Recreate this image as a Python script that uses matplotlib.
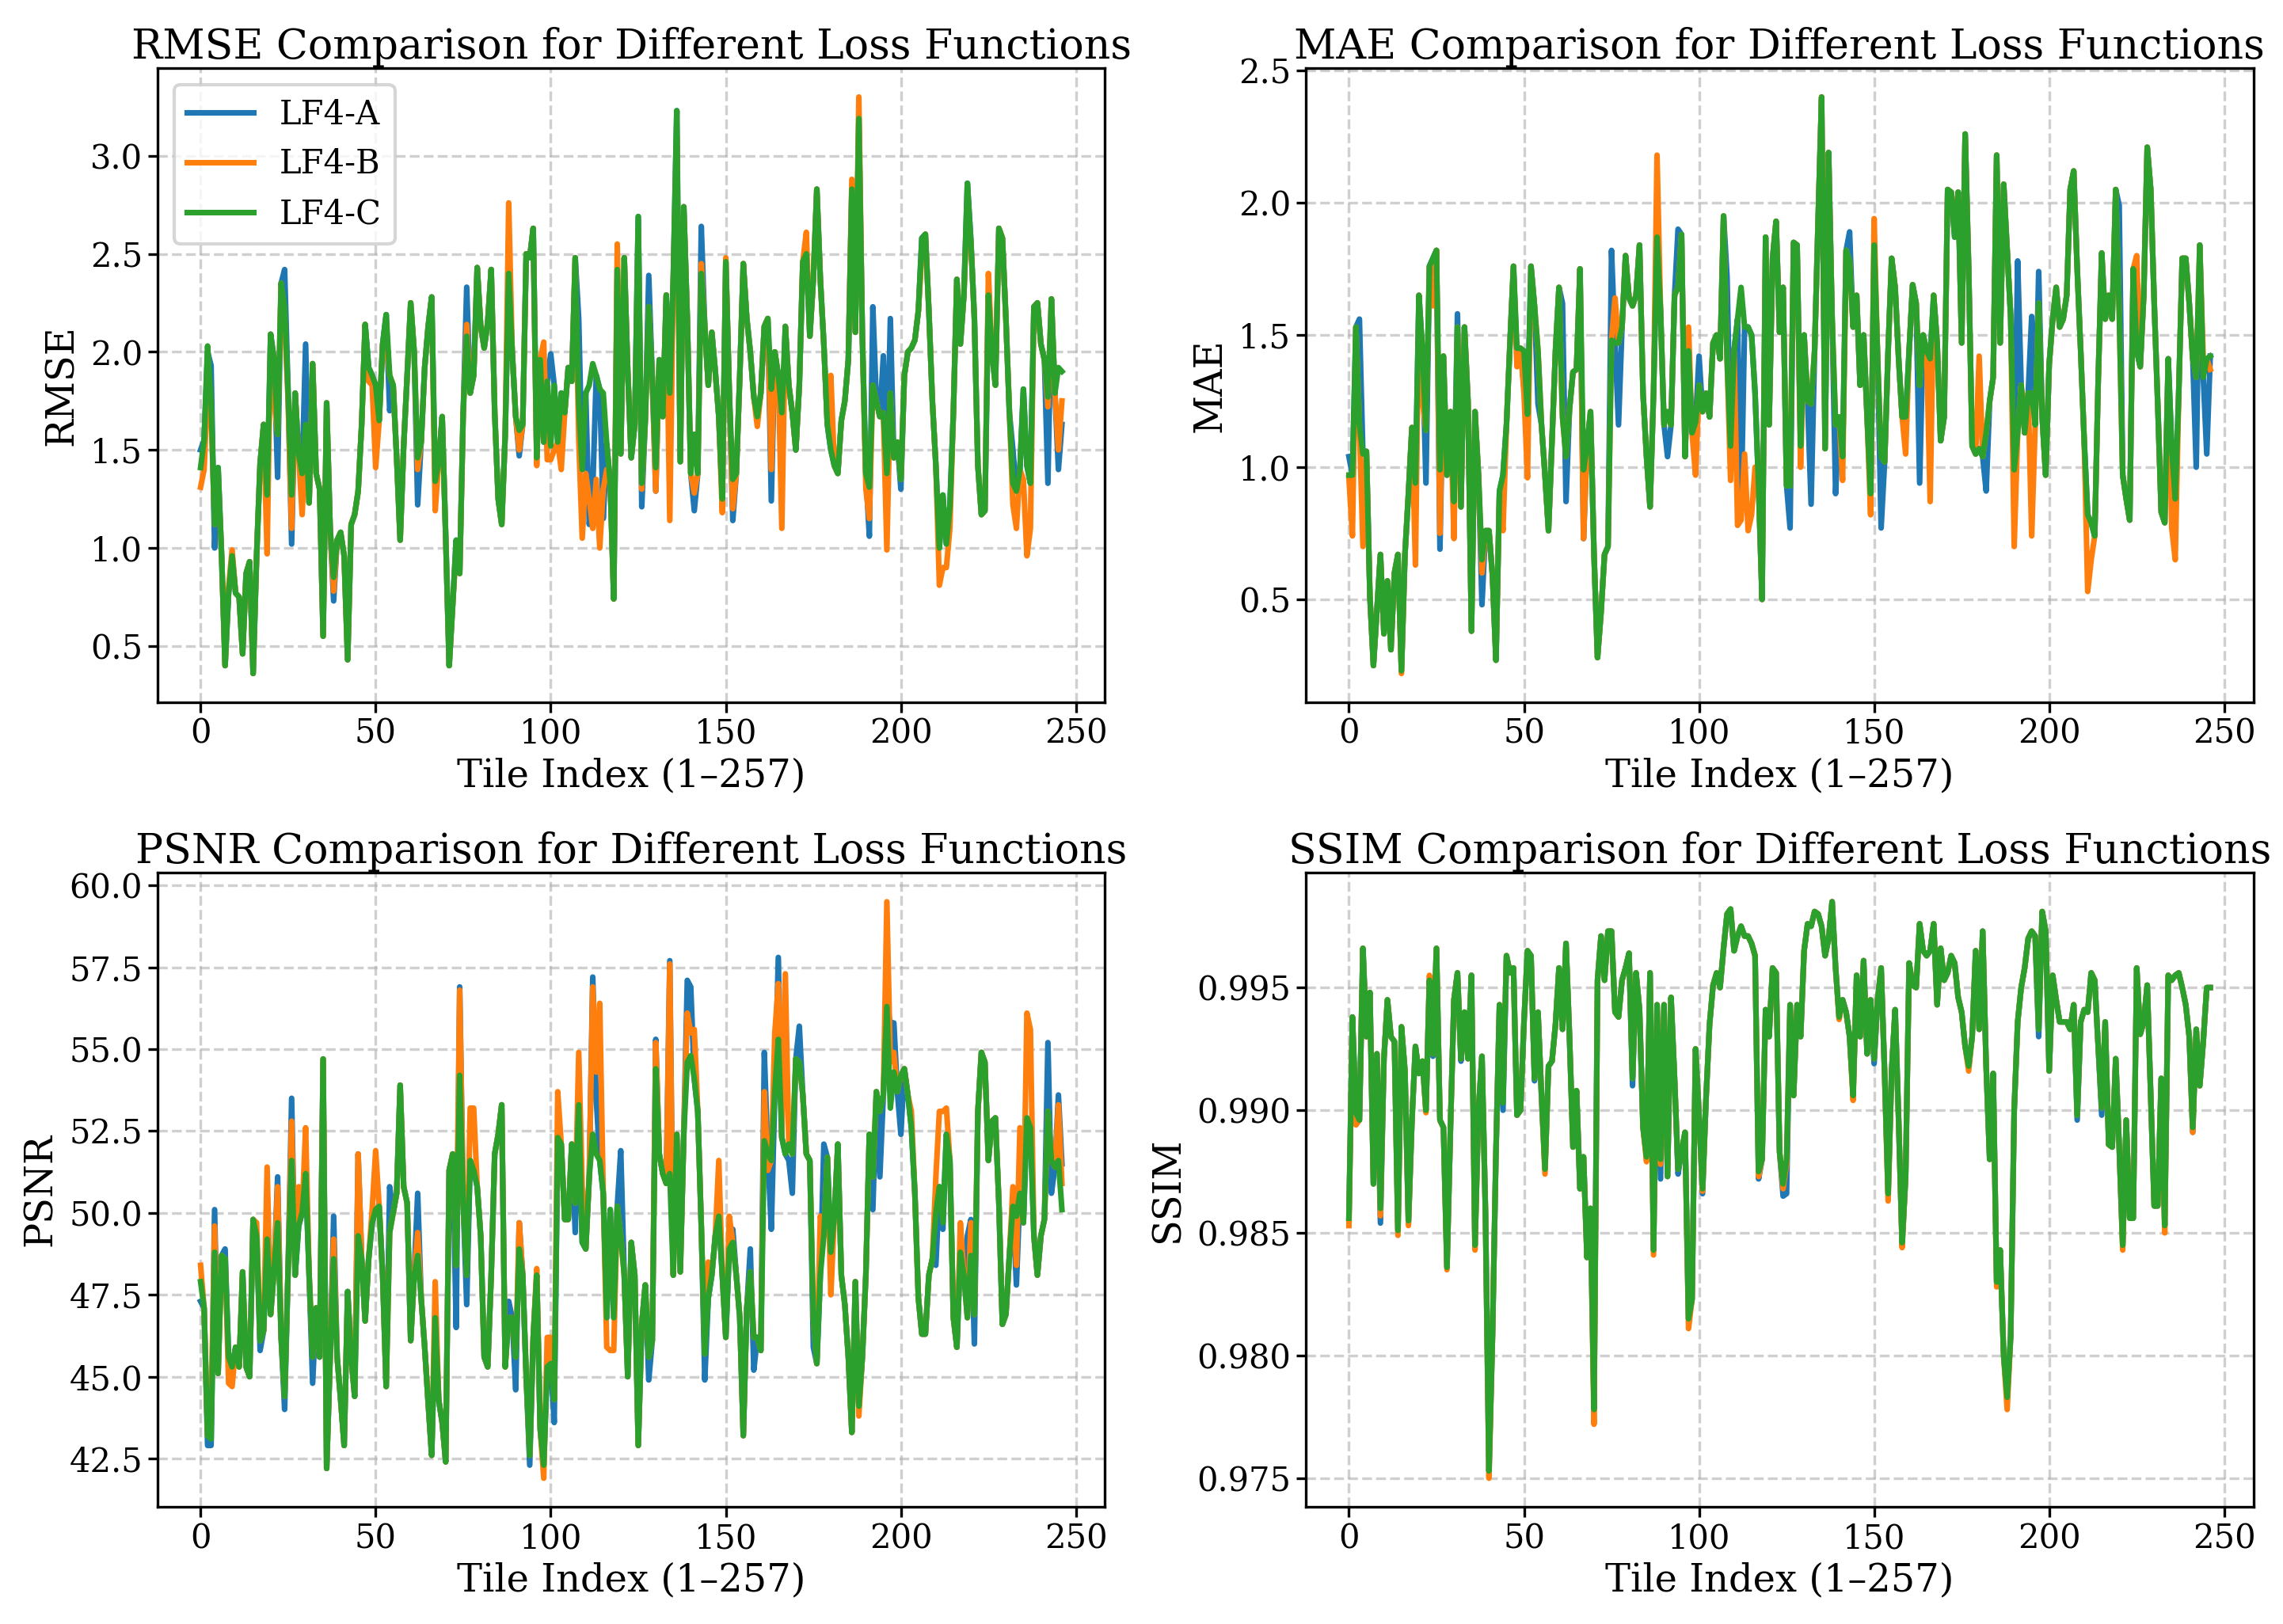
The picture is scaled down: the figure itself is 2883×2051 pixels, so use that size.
"""
Per-tile comparison of the three LF4 loss-function variants
(RMSE, MAE, PSNR, SSIM) on a 2x2 grid.
"""
import numpy as np
import matplotlib.pyplot as plt

plt.rcParams['font.family'] = 'DejaVu Serif'
plt.rcParams['figure.dpi'] = 300

# ---------------------------------------------------------------
# Values per tile
# ---------------------------------------------------------------
series_labels = ['LF4-A', 'LF4-B', 'LF4-C']

rmse_a = [
    1.50, 1.55, 2.00, 1.93, 1.00, 1.41, 0.96, 0.40, 0.77, 0.96,
    0.77, 0.75, 0.46, 0.87, 0.93, 0.36, 0.96, 1.43, 1.63, 1.27,
    2.09, 1.96, 1.36, 2.35, 2.42, 1.79, 1.02, 1.79, 1.48, 1.38,
    2.04, 1.23, 1.94, 1.38, 1.30, 0.55, 1.74, 1.10, 0.73, 1.04,
    1.08, 0.96, 0.43, 1.12, 1.17, 1.29, 1.63, 2.14, 1.92, 1.88,
    1.83, 1.65, 2.04, 2.19, 1.70, 1.83, 1.46, 1.04, 1.52, 1.88,
    2.25, 2.00, 1.22, 1.54, 1.92, 2.13, 2.28, 1.34, 1.44, 1.67,
    1.06, 0.40, 0.71, 1.04, 0.87, 1.69, 2.33, 1.79, 1.88, 2.43,
    2.13, 2.02, 2.15, 2.42, 1.69, 1.25, 1.12, 1.58, 2.40, 2.00,
    1.67, 1.47, 1.63, 2.50, 2.48, 2.63, 1.46, 1.96, 1.54, 1.85,
    1.99, 1.83, 1.54, 1.79, 1.69, 1.92, 1.85, 2.48, 2.17, 1.40,
    1.79, 1.12, 1.30, 1.88, 1.81, 1.15, 1.53, 1.33, 0.74, 2.42,
    1.48, 2.48, 1.90, 1.46, 1.63, 2.69, 1.21, 1.65, 2.39, 1.87,
    1.29, 1.96, 1.67, 2.29, 1.79, 2.37, 3.23, 1.44, 2.74, 2.17,
    1.38, 1.19, 1.38, 2.64, 2.13, 1.83, 2.10, 1.90, 1.67, 1.25,
    2.46, 1.79, 1.14, 1.38, 1.88, 2.45, 2.17, 2.00, 1.77, 1.67,
    1.79, 2.13, 2.17, 1.24, 2.00, 1.88, 1.40, 2.13, 1.83, 1.69,
    1.50, 1.83, 2.46, 2.50, 2.08, 2.37, 2.83, 2.37, 2.04, 1.63,
    1.50, 1.42, 1.38, 1.65, 1.75, 1.96, 2.83, 2.10, 3.19, 2.08,
    1.38, 1.06, 2.23, 1.75, 1.67, 1.98, 1.38, 2.17, 1.46, 1.54,
    1.30, 1.88, 2.00, 2.02, 2.06, 2.21, 2.58, 2.60, 2.21, 1.75,
    1.42, 1.00, 1.27, 1.02, 1.21, 1.69, 2.37, 2.04, 2.29, 2.86,
    2.57, 2.17, 1.42, 1.17, 1.19, 2.29, 2.00, 1.83, 2.63, 2.58,
    2.17, 1.69, 1.50, 1.29, 1.40, 1.81, 1.42, 1.33, 2.23, 2.25,
    2.04, 1.96, 1.33, 2.27, 1.79, 1.40, 1.63,
]
rmse_b = [
    1.31, 1.40, 1.80, 1.70, 1.12, 1.38, 0.96, 0.40, 0.80, 0.99,
    0.77, 0.75, 0.46, 0.87, 0.93, 0.36, 0.96, 1.43, 1.63, 0.97,
    2.09, 1.75, 1.58, 2.35, 2.15, 1.75, 1.10, 1.79, 1.48, 1.17,
    1.55, 1.23, 1.94, 1.38, 1.30, 0.55, 1.74, 1.10, 0.78, 1.04,
    1.08, 0.96, 0.43, 1.12, 1.17, 1.29, 1.63, 2.14, 1.85, 1.83,
    1.41, 1.65, 2.04, 2.05, 1.88, 1.83, 1.46, 1.04, 1.52, 1.88,
    2.25, 2.00, 1.40, 1.54, 1.92, 2.13, 2.28, 1.19, 1.44, 1.67,
    1.06, 0.40, 0.71, 1.00, 0.87, 1.69, 2.14, 1.79, 1.88, 2.43,
    2.13, 2.02, 2.15, 2.42, 1.69, 1.25, 1.12, 1.58, 2.76, 2.00,
    1.67, 1.50, 1.63, 2.50, 2.48, 2.63, 1.42, 1.96, 2.05, 1.45,
    1.45, 1.50, 1.54, 1.40, 1.69, 1.92, 1.85, 2.48, 1.55, 1.05,
    1.38, 1.25, 1.10, 1.35, 1.00, 1.30, 1.40, 1.33, 0.74, 2.55,
    1.48, 2.48, 1.90, 1.46, 1.63, 2.60, 1.30, 1.65, 2.23, 1.87,
    1.29, 1.96, 1.67, 2.29, 1.14, 2.37, 3.10, 1.44, 2.74, 2.17,
    1.38, 1.28, 1.38, 2.45, 2.13, 1.83, 2.10, 1.90, 1.67, 1.18,
    2.48, 1.79, 1.20, 1.38, 1.88, 2.45, 2.17, 2.00, 1.77, 1.62,
    1.79, 2.13, 2.17, 1.40, 2.00, 1.88, 1.10, 2.13, 1.83, 1.69,
    1.50, 1.83, 2.46, 2.61, 2.08, 2.37, 2.83, 2.37, 2.04, 1.63,
    1.88, 1.42, 1.38, 1.65, 1.75, 1.96, 2.88, 2.10, 3.30, 2.08,
    1.30, 1.15, 1.83, 1.75, 1.67, 1.69, 0.99, 1.79, 1.46, 1.54,
    1.35, 1.88, 2.00, 2.02, 2.06, 2.21, 2.50, 2.60, 2.21, 1.75,
    1.42, 0.81, 0.90, 0.90, 1.10, 1.69, 2.37, 2.04, 2.29, 2.75,
    2.56, 2.17, 1.42, 1.17, 1.19, 2.40, 2.00, 1.83, 2.63, 2.58,
    2.17, 1.69, 1.22, 1.10, 1.40, 1.35, 0.96, 1.10, 2.23, 2.25,
    2.04, 1.96, 1.72, 2.27, 1.79, 1.50, 1.75,
]
rmse_c = [
    1.41, 1.55, 2.03, 1.75, 1.12, 1.41, 0.96, 0.40, 0.77, 0.96,
    0.77, 0.75, 0.46, 0.87, 0.93, 0.36, 0.96, 1.43, 1.63, 1.27,
    2.09, 1.96, 1.58, 2.35, 2.23, 1.79, 1.27, 1.79, 1.48, 1.38,
    1.63, 1.23, 1.94, 1.38, 1.30, 0.55, 1.74, 1.10, 0.85, 1.04,
    1.08, 0.96, 0.43, 1.12, 1.17, 1.29, 1.63, 2.14, 1.92, 1.88,
    1.83, 1.65, 2.04, 2.19, 1.88, 1.83, 1.46, 1.04, 1.52, 1.88,
    2.25, 2.00, 1.46, 1.54, 1.92, 2.13, 2.28, 1.34, 1.44, 1.67,
    1.06, 0.40, 0.71, 1.04, 0.87, 1.69, 2.08, 1.79, 1.88, 2.43,
    2.13, 2.02, 2.15, 2.42, 1.69, 1.25, 1.12, 1.58, 2.40, 2.00,
    1.67, 1.60, 1.63, 2.50, 2.48, 2.63, 1.46, 1.96, 1.54, 1.85,
    1.52, 1.83, 1.54, 1.79, 1.69, 1.92, 1.85, 2.48, 1.73, 1.40,
    1.79, 1.83, 1.94, 1.88, 1.81, 1.79, 1.53, 1.33, 0.74, 2.42,
    1.48, 2.48, 1.90, 1.46, 1.63, 2.69, 1.33, 1.65, 2.23, 1.87,
    1.41, 1.96, 1.67, 2.29, 1.79, 2.37, 3.23, 1.44, 2.74, 2.17,
    1.38, 1.58, 1.38, 2.40, 2.13, 1.83, 2.10, 1.90, 1.67, 1.25,
    2.46, 1.79, 1.35, 1.38, 1.88, 2.45, 2.17, 2.00, 1.77, 1.67,
    1.79, 2.13, 2.17, 1.81, 2.00, 1.88, 1.69, 2.13, 1.83, 1.69,
    1.50, 1.83, 2.46, 2.50, 2.08, 2.37, 2.83, 2.37, 2.04, 1.63,
    1.50, 1.42, 1.38, 1.65, 1.75, 1.96, 2.83, 2.10, 3.19, 2.08,
    1.38, 1.31, 1.83, 1.75, 1.67, 1.69, 1.38, 1.79, 1.46, 1.54,
    1.35, 1.88, 2.00, 2.02, 2.06, 2.21, 2.58, 2.60, 2.21, 1.75,
    1.42, 1.00, 1.27, 1.02, 1.21, 1.69, 2.37, 2.04, 2.29, 2.86,
    2.56, 2.17, 1.42, 1.17, 1.19, 2.29, 2.00, 1.83, 2.63, 2.58,
    2.17, 1.69, 1.33, 1.29, 1.40, 1.81, 1.42, 1.33, 2.23, 2.25,
    2.04, 1.96, 1.77, 2.27, 1.79, 1.92, 1.90,
]

mae_a = [
    1.04, 0.97, 1.53, 1.56, 1.05, 1.06, 0.51, 0.25, 0.46, 0.67,
    0.37, 0.57, 0.31, 0.60, 0.67, 0.23, 0.67, 0.90, 1.15, 0.94,
    1.65, 1.44, 0.94, 1.76, 1.79, 1.82, 0.69, 1.42, 0.97, 1.21,
    0.87, 1.58, 0.85, 1.53, 1.25, 0.38, 1.21, 0.97, 0.48, 0.76,
    0.76, 0.59, 0.27, 0.91, 0.97, 1.16, 1.47, 1.76, 1.40, 1.45,
    1.30, 1.20, 1.76, 1.61, 1.24, 1.16, 0.97, 0.76, 1.10, 1.44,
    1.68, 1.62, 0.87, 1.22, 1.36, 1.37, 1.75, 0.73, 1.08, 1.21,
    0.67, 0.28, 0.45, 0.67, 0.70, 1.82, 1.47, 1.16, 1.53, 1.80,
    1.64, 1.61, 1.65, 1.84, 1.28, 1.04, 0.85, 1.28, 1.87, 1.59,
    1.16, 1.04, 1.16, 1.65, 1.90, 1.88, 1.04, 1.44, 1.13, 1.17,
    1.42, 1.21, 1.28, 1.19, 1.47, 1.50, 1.41, 1.95, 1.72, 1.08,
    1.44, 1.56, 0.83, 1.53, 1.53, 1.50, 1.28, 0.93, 0.50, 1.87,
    1.16, 1.79, 1.93, 1.51, 1.68, 0.93, 0.77, 1.85, 1.84, 1.08,
    1.50, 1.25, 0.86, 1.44, 1.93, 2.39, 1.07, 2.19, 1.56, 0.90,
    1.19, 1.04, 1.82, 1.89, 1.53, 1.65, 1.31, 1.50, 1.19, 0.90,
    1.84, 1.41, 0.77, 1.02, 1.44, 1.79, 1.68, 1.41, 1.19, 1.19,
    1.44, 1.69, 1.62, 0.94, 1.50, 1.44, 1.41, 1.65, 1.47, 1.10,
    1.19, 2.05, 2.04, 1.87, 2.04, 1.47, 2.26, 1.75, 1.08, 1.05,
    1.07, 1.04, 0.91, 1.25, 1.34, 2.18, 1.47, 2.07, 1.82, 1.57,
    0.99, 1.78, 1.31, 1.13, 1.28, 1.57, 1.16, 1.74, 1.19, 0.97,
    1.39, 1.56, 1.68, 1.53, 1.56, 1.65, 2.05, 2.12, 1.75, 1.44,
    1.10, 0.82, 0.79, 0.74, 1.33, 1.81, 1.56, 1.65, 1.56, 2.05,
    1.99, 0.97, 0.88, 0.80, 1.75, 1.44, 1.38, 1.65, 2.21, 2.05,
    1.62, 1.24, 0.83, 0.79, 1.41, 1.07, 0.88, 1.28, 1.79, 1.79,
    1.62, 1.41, 1.00, 1.84, 1.34, 1.05, 1.42,
]
mae_b = [
    0.96, 0.74, 1.53, 1.16, 0.70, 1.06, 0.51, 0.25, 0.46, 0.67,
    0.37, 0.57, 0.31, 0.60, 0.67, 0.22, 0.67, 0.90, 1.15, 0.63,
    1.65, 1.25, 1.14, 1.76, 1.61, 1.82, 0.75, 1.42, 0.97, 1.21,
    0.73, 1.53, 0.85, 1.53, 1.25, 0.38, 1.21, 0.97, 0.60, 0.76,
    0.76, 0.59, 0.27, 0.91, 0.76, 1.16, 1.47, 1.76, 1.38, 1.45,
    1.28, 0.96, 1.76, 1.61, 1.44, 1.16, 0.97, 0.76, 1.10, 1.44,
    1.68, 1.19, 1.04, 1.22, 1.36, 1.37, 1.75, 0.73, 1.08, 1.21,
    0.67, 0.28, 0.45, 0.67, 0.70, 1.48, 1.64, 1.47, 1.53, 1.80,
    1.64, 1.61, 1.65, 1.84, 1.28, 1.04, 0.85, 1.28, 2.18, 1.59,
    1.16, 1.21, 1.16, 1.65, 1.68, 1.88, 1.04, 1.53, 1.13, 0.97,
    1.31, 1.21, 1.28, 1.19, 1.47, 1.50, 1.41, 1.95, 1.41, 0.95,
    1.44, 0.78, 0.80, 1.05, 0.76, 0.82, 1.00, 0.93, 0.50, 1.87,
    1.16, 1.79, 1.93, 1.51, 1.68, 0.93, 0.93, 1.85, 1.84, 1.00,
    1.50, 1.25, 1.24, 1.44, 1.93, 2.40, 1.07, 2.19, 1.56, 1.16,
    1.19, 0.95, 1.82, 1.78, 1.53, 1.65, 1.31, 1.50, 1.19, 0.82,
    1.94, 1.41, 1.04, 1.02, 1.44, 1.79, 1.68, 1.41, 1.19, 1.05,
    1.44, 1.69, 1.62, 1.31, 1.50, 1.44, 0.87, 1.65, 1.47, 1.10,
    1.19, 2.05, 2.04, 1.93, 2.04, 1.47, 2.26, 1.75, 1.08, 1.05,
    1.42, 1.04, 1.13, 1.25, 1.34, 2.18, 1.47, 2.07, 1.82, 1.57,
    0.70, 1.13, 1.31, 1.13, 1.28, 0.74, 1.16, 1.62, 1.19, 0.97,
    1.39, 1.56, 1.68, 1.53, 1.56, 1.65, 2.05, 2.12, 1.75, 1.44,
    1.10, 0.53, 0.65, 0.74, 1.33, 1.81, 1.56, 1.65, 1.56, 2.05,
    1.59, 0.97, 0.88, 0.80, 1.75, 1.80, 1.38, 1.65, 2.21, 2.05,
    1.62, 1.24, 0.83, 0.79, 1.41, 0.77, 0.65, 1.28, 1.79, 1.79,
    1.62, 1.41, 1.34, 1.84, 1.41, 1.41, 1.37,
]
mae_c = [
    0.97, 0.97, 1.53, 1.16, 1.05, 1.06, 0.51, 0.25, 0.46, 0.67,
    0.37, 0.57, 0.31, 0.60, 0.67, 0.23, 0.67, 0.90, 1.15, 0.94,
    1.65, 1.44, 1.14, 1.76, 1.79, 1.82, 0.99, 1.42, 0.97, 1.21,
    0.87, 1.53, 0.85, 1.53, 1.25, 0.38, 1.21, 0.97, 0.65, 0.76,
    0.76, 0.59, 0.27, 0.91, 0.97, 1.16, 1.47, 1.76, 1.45, 1.45,
    1.44, 1.20, 1.76, 1.61, 1.44, 1.16, 0.97, 0.76, 1.10, 1.44,
    1.68, 1.19, 1.04, 1.22, 1.36, 1.37, 1.75, 0.99, 1.08, 1.21,
    0.67, 0.28, 0.45, 0.67, 0.70, 1.48, 1.47, 1.47, 1.53, 1.80,
    1.64, 1.61, 1.65, 1.84, 1.28, 1.04, 0.85, 1.28, 1.87, 1.59,
    1.16, 1.21, 1.16, 1.65, 1.68, 1.88, 1.04, 1.44, 1.13, 1.17,
    1.31, 1.21, 1.28, 1.19, 1.47, 1.50, 1.41, 1.95, 1.41, 1.08,
    1.44, 1.56, 1.68, 1.53, 1.53, 1.50, 1.28, 0.93, 0.50, 1.87,
    1.16, 1.79, 1.93, 1.51, 1.68, 0.93, 0.93, 1.85, 1.84, 1.08,
    1.50, 1.25, 1.24, 1.44, 1.93, 2.40, 1.07, 2.19, 1.56, 1.16,
    1.19, 1.04, 1.82, 1.78, 1.53, 1.65, 1.31, 1.50, 1.19, 0.90,
    1.84, 1.41, 1.04, 1.02, 1.44, 1.79, 1.68, 1.41, 1.19, 1.19,
    1.44, 1.69, 1.62, 1.31, 1.50, 1.44, 1.41, 1.65, 1.47, 1.10,
    1.19, 2.05, 2.04, 1.87, 2.04, 1.47, 2.26, 1.75, 1.08, 1.05,
    1.07, 1.04, 1.13, 1.25, 1.34, 2.18, 1.47, 2.07, 1.82, 1.57,
    0.99, 1.13, 1.31, 1.13, 1.28, 1.28, 1.16, 1.62, 1.19, 0.97,
    1.39, 1.56, 1.68, 1.53, 1.56, 1.65, 2.05, 2.12, 1.75, 1.44,
    1.10, 0.82, 0.79, 0.74, 1.33, 1.81, 1.56, 1.65, 1.56, 2.05,
    1.59, 0.97, 0.88, 0.80, 1.75, 1.44, 1.38, 1.65, 2.21, 2.05,
    1.62, 1.24, 0.83, 0.79, 1.41, 1.07, 0.88, 1.28, 1.79, 1.79,
    1.62, 1.41, 1.34, 1.84, 1.34, 1.41, 1.42,
]

psnr_a = [
    47.3, 47.1, 42.9, 42.9, 50.1, 45.1, 48.7, 48.9, 45.6, 45.3,
    45.9, 45.3, 48.2, 45.3, 45.0, 49.8, 49.3, 45.8, 46.4, 49.2,
    46.9, 48.3, 51.1, 46.2, 44.0, 48.3, 53.5, 48.1, 49.6, 50.0,
    51.2, 48.1, 44.8, 47.1, 45.6, 54.7, 42.2, 45.6, 49.9, 45.6,
    44.3, 42.9, 47.6, 45.6, 44.4, 51.8, 48.6, 46.7, 48.6, 49.7,
    50.1, 50.2, 48.1, 44.7, 50.8, 50.0, 50.6, 53.9, 50.8, 50.3,
    46.1, 48.1, 50.6, 47.4, 45.9, 44.2, 42.6, 46.8, 44.3, 43.6,
    42.4, 51.3, 51.8, 46.5, 56.9, 50.3, 47.2, 51.6, 51.3, 50.8,
    49.3, 45.6, 45.3, 48.1, 51.8, 52.4, 53.3, 45.3, 47.3, 46.8,
    44.6, 49.7, 48.1, 45.0, 42.3, 46.2, 48.1, 43.4, 42.3, 45.3,
    45.4, 43.6, 52.3, 52.1, 49.8, 49.8, 52.1, 49.4, 53.3, 49.1,
    48.9, 51.1, 57.2, 53.5, 51.6, 50.6, 46.8, 50.1, 46.8, 50.2,
    51.9, 48.1, 45.0, 49.1, 48.1, 42.9, 46.6, 47.8, 44.9, 46.1,
    55.3, 51.8, 51.2, 50.9, 57.7, 48.1, 52.4, 48.2, 52.4, 57.1,
    56.9, 54.1, 53.1, 49.6, 44.9, 47.4, 48.1, 49.3, 49.9, 48.1,
    46.2, 48.9, 49.5, 48.1, 46.8, 43.2, 47.1, 48.9, 45.2, 46.2,
    45.8, 54.9, 51.8, 49.5, 53.7, 57.8, 52.3, 51.8, 51.6, 50.6,
    54.7, 55.7, 53.6, 51.8, 51.6, 45.9, 45.4, 48.1, 52.1, 51.7,
    48.8, 49.9, 52.1, 48.1, 47.2, 45.6, 43.3, 47.9, 44.1, 45.6,
    48.1, 52.4, 50.1, 53.7, 51.1, 53.6, 56.3, 55.8, 55.8, 53.7,
    52.4, 54.4, 53.6, 52.6, 50.6, 47.4, 46.3, 46.3, 48.1, 48.6,
    48.4, 50.8, 49.5, 52.4, 51.6, 46.8, 45.9, 48.8, 48.1, 49.3,
    49.8, 46.0, 53.1, 54.9, 54.6, 51.6, 52.8, 52.9, 50.3, 46.6,
    46.9, 48.7, 50.2, 47.8, 50.6, 49.7, 52.9, 52.6, 49.3, 48.1,
    49.3, 49.8, 55.2, 50.6, 51.4, 53.6, 51.5,
]
psnr_b = [
    48.4, 47.1, 43.2, 43.8, 49.6, 45.1, 48.7, 48.6, 44.8, 44.7,
    45.9, 45.3, 48.2, 45.3, 45.0, 49.8, 49.7, 46.1, 46.4, 51.4,
    46.9, 48.3, 50.8, 46.2, 44.4, 48.3, 52.8, 48.1, 50.8, 50.0,
    52.6, 48.1, 45.6, 47.1, 45.6, 54.7, 42.2, 45.6, 49.2, 45.6,
    44.3, 42.9, 47.6, 45.6, 44.4, 51.8, 48.6, 46.7, 48.6, 50.1,
    51.9, 50.2, 48.1, 44.7, 49.4, 50.0, 50.6, 53.9, 50.8, 50.3,
    46.1, 48.1, 49.4, 47.4, 45.9, 44.2, 42.6, 47.9, 44.3, 43.6,
    42.4, 51.3, 51.8, 48.4, 56.8, 50.3, 48.1, 53.2, 53.2, 50.8,
    49.3, 45.6, 45.3, 48.1, 51.8, 52.4, 53.3, 45.3, 46.8, 46.8,
    45.6, 49.7, 48.1, 45.0, 42.6, 46.2, 48.3, 43.4, 41.9, 46.2,
    46.2, 44.3, 53.7, 52.1, 49.8, 49.8, 52.1, 50.3, 54.9, 50.8,
    48.9, 51.1, 56.9, 54.3, 56.4, 50.6, 45.9, 45.8, 45.8, 50.2,
    49.3, 48.1, 45.0, 49.1, 48.1, 42.9, 46.6, 47.8, 45.6, 46.1,
    55.2, 51.8, 51.2, 50.9, 57.6, 48.1, 52.4, 48.2, 52.4, 56.1,
    55.5, 55.6, 53.1, 49.6, 45.7, 48.5, 48.1, 49.3, 51.6, 48.1,
    46.2, 49.9, 49.1, 48.1, 46.8, 43.2, 47.1, 48.2, 46.2, 46.2,
    45.8, 53.7, 51.3, 51.6, 55.5, 57.0, 52.3, 57.3, 52.1, 51.8,
    54.7, 54.6, 53.6, 51.8, 51.6, 46.8, 45.4, 49.9, 49.3, 51.7,
    47.5, 49.9, 52.1, 48.1, 47.2, 45.6, 43.3, 47.9, 43.8, 45.6,
    48.1, 52.4, 51.1, 53.7, 53.1, 53.6, 59.5, 54.6, 54.9, 53.7,
    54.2, 54.4, 53.6, 53.1, 50.6, 47.4, 46.3, 46.3, 48.1, 48.6,
    51.1, 53.1, 53.1, 53.2, 51.6, 46.8, 45.9, 49.7, 48.1, 46.8,
    49.7, 46.9, 53.1, 54.9, 54.6, 51.6, 52.8, 52.9, 50.3, 46.6,
    46.9, 48.7, 50.8, 48.4, 52.6, 49.7, 56.1, 55.6, 49.3, 48.1,
    49.3, 49.8, 53.1, 51.6, 51.4, 53.3, 50.9,
]
psnr_c = [
    47.9, 47.1, 43.2, 43.1, 48.8, 45.1, 48.7, 48.6, 45.6, 45.3,
    45.9, 45.3, 48.2, 45.3, 45.0, 49.8, 49.3, 46.1, 46.4, 49.2,
    46.9, 48.3, 49.7, 46.2, 44.4, 48.3, 51.6, 48.1, 49.6, 50.0,
    51.2, 48.1, 45.6, 47.1, 45.6, 54.7, 42.2, 45.6, 48.6, 45.6,
    44.3, 42.9, 47.6, 45.6, 44.4, 49.3, 48.6, 46.7, 48.6, 49.7,
    50.1, 50.2, 48.1, 44.7, 49.4, 50.0, 50.6, 53.9, 50.8, 50.3,
    46.1, 48.1, 48.7, 47.4, 45.9, 44.2, 42.6, 46.8, 44.3, 43.6,
    42.4, 51.3, 51.8, 48.4, 54.2, 50.3, 48.1, 51.6, 51.3, 50.8,
    49.3, 45.6, 45.3, 48.1, 51.8, 52.4, 53.3, 45.3, 46.8, 46.8,
    45.6, 48.9, 48.1, 45.0, 42.6, 46.2, 48.1, 43.4, 42.3, 45.3,
    45.4, 44.3, 52.3, 52.1, 49.8, 49.8, 52.1, 50.3, 53.3, 49.1,
    48.9, 51.1, 52.4, 51.8, 51.6, 50.6, 46.8, 50.1, 46.8, 50.2,
    49.3, 48.1, 45.0, 49.1, 48.1, 42.9, 46.6, 47.8, 45.6, 46.1,
    54.4, 51.8, 51.2, 50.9, 51.2, 48.1, 52.4, 48.2, 52.4, 54.6,
    54.8, 54.1, 53.1, 49.6, 45.7, 47.4, 48.1, 49.3, 49.9, 48.1,
    46.2, 48.9, 49.1, 48.1, 46.8, 43.2, 47.1, 48.2, 46.2, 46.2,
    45.8, 52.2, 51.8, 51.6, 53.7, 55.3, 52.3, 51.8, 52.1, 51.8,
    54.7, 54.6, 53.6, 51.8, 51.6, 46.8, 45.4, 48.1, 49.3, 51.7,
    48.8, 49.9, 52.1, 48.1, 47.2, 45.6, 43.3, 47.9, 44.1, 45.6,
    48.1, 52.4, 51.1, 53.7, 53.1, 53.6, 56.3, 53.2, 54.3, 53.7,
    54.2, 54.4, 53.6, 52.6, 50.6, 47.4, 46.3, 46.3, 48.1, 48.6,
    50.0, 50.8, 49.7, 52.4, 51.6, 46.8, 45.9, 48.8, 48.1, 46.8,
    48.7, 46.9, 53.1, 54.9, 54.6, 51.6, 52.8, 52.9, 50.3, 46.6,
    46.9, 48.7, 50.2, 49.9, 50.6, 49.7, 52.9, 52.6, 49.3, 48.1,
    49.3, 49.8, 53.1, 51.6, 51.4, 51.6, 50.1,
]

ssim_a = [
    0.9856, 0.9938, 0.9899, 0.9896, 0.9966, 0.9930, 0.9948, 0.9870, 0.9923, 0.9854,
    0.9921, 0.9945, 0.9930, 0.9928, 0.9851, 0.9934, 0.9916, 0.9854, 0.9896, 0.9926,
    0.9915, 0.9920, 0.9900, 0.9953, 0.9922, 0.9966, 0.9896, 0.9893, 0.9836, 0.9893,
    0.9945, 0.9956, 0.9920, 0.9940, 0.9921, 0.9955, 0.9845, 0.9900, 0.9922, 0.9858,
    0.9753, 0.9808, 0.9883, 0.9943, 0.9900, 0.9963, 0.9956, 0.9958, 0.9898, 0.9900,
    0.9936, 0.9965, 0.9963, 0.9912, 0.9940, 0.9906, 0.9876, 0.9918, 0.9920, 0.9935,
    0.9958, 0.9933, 0.9968, 0.9930, 0.9885, 0.9908, 0.9868, 0.9881, 0.9840, 0.9860,
    0.9778, 0.9953, 0.9971, 0.9953, 0.9973, 0.9973, 0.9940, 0.9938, 0.9953, 0.9958,
    0.9964, 0.9910, 0.9956, 0.9941, 0.9893, 0.9881, 0.9956, 0.9843, 0.9943, 0.9872,
    0.9943, 0.9873, 0.9946, 0.9913, 0.9874, 0.9883, 0.9891, 0.9815, 0.9823, 0.9925,
    0.9898, 0.9866, 0.9905, 0.9935, 0.9951, 0.9955, 0.9950, 0.9966, 0.9980, 0.9982,
    0.9965, 0.9971, 0.9975, 0.9971, 0.9971, 0.9968, 0.9963, 0.9872, 0.9880, 0.9941,
    0.9930, 0.9958, 0.9956, 0.9883, 0.9865, 0.9866, 0.9943, 0.9906, 0.9943, 0.9930,
    0.9965, 0.9976, 0.9975, 0.9981, 0.9980, 0.9975, 0.9963, 0.9970, 0.9985, 0.9958,
    0.9938, 0.9945, 0.9940, 0.9930, 0.9906, 0.9955, 0.9930, 0.9961, 0.9923, 0.9945,
    0.9919, 0.9945, 0.9958, 0.9915, 0.9866, 0.9916, 0.9941, 0.9896, 0.9845, 0.9873,
    0.9960, 0.9951, 0.9950, 0.9976, 0.9965, 0.9963, 0.9965, 0.9976, 0.9943, 0.9966,
    0.9953, 0.9956, 0.9963, 0.9960, 0.9946, 0.9940, 0.9926, 0.9918, 0.9930, 0.9965,
    0.9933, 0.9973, 0.9918, 0.9880, 0.9915, 0.9830, 0.9843, 0.9800, 0.9783, 0.9808,
    0.9900, 0.9936, 0.9950, 0.9958, 0.9970, 0.9973, 0.9971, 0.9930, 0.9981, 0.9973,
    0.9916, 0.9955, 0.9945, 0.9936, 0.9936, 0.9936, 0.9933, 0.9943, 0.9896, 0.9936,
    0.9941, 0.9940, 0.9956, 0.9953, 0.9926, 0.9898, 0.9936, 0.9886, 0.9885, 0.9921,
    0.9885, 0.9845, 0.9896, 0.9856, 0.9856, 0.9958, 0.9931, 0.9936, 0.9951, 0.9906,
    0.9861, 0.9861, 0.9913, 0.9853, 0.9955, 0.9953, 0.9955, 0.9956, 0.9950, 0.9943,
    0.9930, 0.9891, 0.9933, 0.9910, 0.9928, 0.9950, 0.9950,
]
ssim_b = [
    0.9853, 0.9938, 0.9894, 0.9896, 0.9966, 0.9930, 0.9948, 0.9870, 0.9923, 0.9857,
    0.9921, 0.9945, 0.9930, 0.9928, 0.9849, 0.9934, 0.9916, 0.9853, 0.9896, 0.9926,
    0.9915, 0.9920, 0.9899, 0.9955, 0.9923, 0.9966, 0.9896, 0.9893, 0.9835, 0.9893,
    0.9945, 0.9956, 0.9921, 0.9940, 0.9921, 0.9955, 0.9843, 0.9900, 0.9922, 0.9858,
    0.9750, 0.9808, 0.9883, 0.9943, 0.9906, 0.9963, 0.9956, 0.9958, 0.9898, 0.9900,
    0.9936, 0.9965, 0.9963, 0.9913, 0.9940, 0.9906, 0.9874, 0.9918, 0.9920, 0.9935,
    0.9958, 0.9933, 0.9968, 0.9930, 0.9885, 0.9908, 0.9868, 0.9881, 0.9840, 0.9860,
    0.9772, 0.9953, 0.9971, 0.9953, 0.9973, 0.9973, 0.9940, 0.9938, 0.9953, 0.9958,
    0.9964, 0.9913, 0.9956, 0.9941, 0.9893, 0.9879, 0.9956, 0.9841, 0.9943, 0.9878,
    0.9943, 0.9873, 0.9946, 0.9913, 0.9876, 0.9883, 0.9891, 0.9811, 0.9823, 0.9925,
    0.9898, 0.9867, 0.9905, 0.9935, 0.9951, 0.9956, 0.9950, 0.9966, 0.9980, 0.9982,
    0.9965, 0.9971, 0.9975, 0.9971, 0.9971, 0.9968, 0.9963, 0.9873, 0.9880, 0.9941,
    0.9930, 0.9958, 0.9956, 0.9883, 0.9868, 0.9878, 0.9943, 0.9906, 0.9943, 0.9930,
    0.9965, 0.9976, 0.9975, 0.9981, 0.9980, 0.9975, 0.9963, 0.9970, 0.9985, 0.9958,
    0.9937, 0.9945, 0.9940, 0.9930, 0.9904, 0.9955, 0.9930, 0.9961, 0.9923, 0.9945,
    0.9921, 0.9945, 0.9958, 0.9915, 0.9863, 0.9916, 0.9941, 0.9896, 0.9844, 0.9873,
    0.9960, 0.9951, 0.9950, 0.9976, 0.9965, 0.9963, 0.9965, 0.9976, 0.9943, 0.9966,
    0.9953, 0.9956, 0.9963, 0.9960, 0.9946, 0.9940, 0.9926, 0.9916, 0.9930, 0.9965,
    0.9933, 0.9973, 0.9918, 0.9880, 0.9915, 0.9828, 0.9843, 0.9800, 0.9778, 0.9808,
    0.9900, 0.9936, 0.9950, 0.9958, 0.9970, 0.9973, 0.9971, 0.9933, 0.9981, 0.9973,
    0.9916, 0.9955, 0.9945, 0.9936, 0.9936, 0.9936, 0.9933, 0.9943, 0.9898, 0.9936,
    0.9941, 0.9940, 0.9956, 0.9953, 0.9926, 0.9901, 0.9936, 0.9886, 0.9885, 0.9921,
    0.9885, 0.9843, 0.9896, 0.9856, 0.9856, 0.9958, 0.9931, 0.9936, 0.9951, 0.9906,
    0.9861, 0.9861, 0.9913, 0.9850, 0.9955, 0.9953, 0.9955, 0.9956, 0.9950, 0.9943,
    0.9930, 0.9891, 0.9933, 0.9910, 0.9928, 0.9950, 0.9950,
]
ssim_c = [
    0.9856, 0.9938, 0.9899, 0.9896, 0.9966, 0.9930, 0.9948, 0.9870, 0.9923, 0.9860,
    0.9921, 0.9945, 0.9930, 0.9928, 0.9851, 0.9934, 0.9916, 0.9855, 0.9896, 0.9926,
    0.9915, 0.9920, 0.9900, 0.9953, 0.9923, 0.9966, 0.9896, 0.9893, 0.9836, 0.9893,
    0.9945, 0.9956, 0.9921, 0.9940, 0.9921, 0.9955, 0.9845, 0.9900, 0.9922, 0.9858,
    0.9753, 0.9808, 0.9883, 0.9943, 0.9903, 0.9963, 0.9956, 0.9958, 0.9898, 0.9900,
    0.9936, 0.9965, 0.9963, 0.9913, 0.9940, 0.9906, 0.9876, 0.9918, 0.9920, 0.9935,
    0.9958, 0.9933, 0.9968, 0.9930, 0.9885, 0.9908, 0.9868, 0.9881, 0.9840, 0.9860,
    0.9778, 0.9953, 0.9971, 0.9953, 0.9973, 0.9973, 0.9940, 0.9938, 0.9953, 0.9958,
    0.9964, 0.9913, 0.9956, 0.9941, 0.9893, 0.9881, 0.9956, 0.9843, 0.9943, 0.9880,
    0.9943, 0.9873, 0.9946, 0.9913, 0.9876, 0.9883, 0.9891, 0.9815, 0.9823, 0.9925,
    0.9898, 0.9868, 0.9905, 0.9935, 0.9951, 0.9956, 0.9950, 0.9966, 0.9980, 0.9982,
    0.9965, 0.9971, 0.9975, 0.9971, 0.9971, 0.9968, 0.9963, 0.9875, 0.9880, 0.9941,
    0.9930, 0.9958, 0.9956, 0.9883, 0.9870, 0.9880, 0.9943, 0.9906, 0.9943, 0.9930,
    0.9965, 0.9976, 0.9975, 0.9981, 0.9980, 0.9975, 0.9963, 0.9970, 0.9985, 0.9958,
    0.9938, 0.9945, 0.9940, 0.9930, 0.9906, 0.9955, 0.9930, 0.9961, 0.9923, 0.9945,
    0.9921, 0.9945, 0.9958, 0.9915, 0.9866, 0.9916, 0.9941, 0.9896, 0.9846, 0.9873,
    0.9960, 0.9951, 0.9950, 0.9976, 0.9965, 0.9963, 0.9965, 0.9976, 0.9943, 0.9966,
    0.9953, 0.9956, 0.9963, 0.9960, 0.9946, 0.9940, 0.9926, 0.9918, 0.9930, 0.9965,
    0.9933, 0.9973, 0.9918, 0.9880, 0.9915, 0.9830, 0.9843, 0.9800, 0.9783, 0.9808,
    0.9900, 0.9936, 0.9950, 0.9958, 0.9970, 0.9973, 0.9971, 0.9933, 0.9981, 0.9973,
    0.9916, 0.9955, 0.9945, 0.9936, 0.9936, 0.9936, 0.9933, 0.9943, 0.9898, 0.9936,
    0.9941, 0.9940, 0.9956, 0.9953, 0.9926, 0.9901, 0.9936, 0.9886, 0.9885, 0.9921,
    0.9885, 0.9845, 0.9896, 0.9856, 0.9856, 0.9958, 0.9931, 0.9936, 0.9951, 0.9906,
    0.9861, 0.9861, 0.9913, 0.9853, 0.9955, 0.9953, 0.9955, 0.9956, 0.9950, 0.9943,
    0.9930, 0.9893, 0.9933, 0.9910, 0.9928, 0.9950, 0.9950,
]

metrics = ['RMSE', 'MAE', 'PSNR', 'SSIM']
metric_data = {
    'RMSE': (rmse_a, rmse_b, rmse_c),
    'MAE': (mae_a, mae_b, mae_c),
    'PSNR': (psnr_a, psnr_b, psnr_c),
    'SSIM': (ssim_a, ssim_b, ssim_c),
}
colors = ['#1f77b4', '#ff7f0e', '#2ca02c']

# ---------------------------------------------------------------
# Plot
# ---------------------------------------------------------------
fig, axes = plt.subplots(2, 2, figsize=(9.61, 6.837))

for ax, name in zip(axes.flat, metrics):
    for values, label, color in zip(metric_data[name], series_labels, colors):
        ax.plot(np.arange(len(values)), values, color=color, linewidth=1.7, label=label)
    ax.set_title(f'{name} Comparison for Different Loss Functions', fontsize=12.5, pad=3)
    ax.set_xlabel('Tile Index (1\u2013257)', fontsize=11.5, labelpad=2)
    ax.set_ylabel(name, fontsize=11.5, labelpad=3)
    ax.tick_params(labelsize=10, length=3, pad=1.5)
    ax.grid(True, linestyle='--', alpha=0.6)

axes[0, 0].legend(loc='upper left', fontsize=10)

fig.subplots_adjust(left=0.069, right=0.987, bottom=0.072, top=0.958,
                    wspace=0.212, hspace=0.269)
fig.savefig('out.png', dpi=300)
